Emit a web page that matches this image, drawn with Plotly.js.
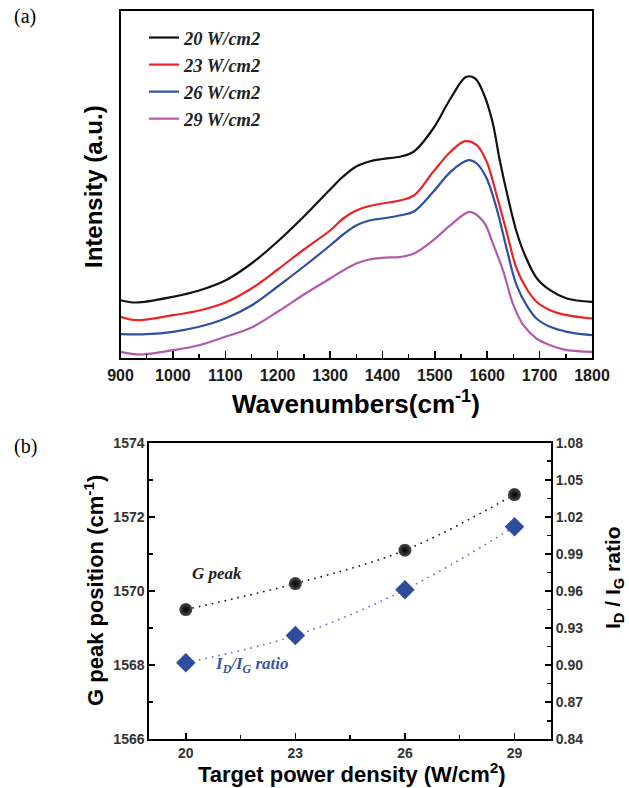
<!DOCTYPE html>
<html>
<head>
<meta charset="utf-8">
<script src="https://cdn.plot.ly/plotly-3.0.1.min.js"></script>
<style>html,body{margin:0;padding:0;background:#fff;}#chart{width:629px;height:788px;}</style>
</head>
<body>
<div id="chart"></div>
<script>
// ---- Panel (a): Raman spectra (arbitrary intensity units) ----
const wn20 = [900,930,1000,1050,1100,1150,1200,1250,1300,1325,1350,1375,1400,1435,1460,1497,1530,1560,1577,1593,1610,1624,1640,1656,1672,1695,1720,1752,1800];
const int20 = [57.3,55,60.7,67,77,94,116,141,168,181,191,196,198.5,201,206,229,259,280.7,279,264,235.7,197,159,125.7,102.3,79,67.3,59,55.7];

const wn23 = [900,930,1000,1050,1100,1150,1200,1250,1300,1325,1350,1375,1400,1435,1460,1497,1530,1558,1580,1599,1618,1637,1656,1675,1694,1720,1752,1800];
const int23 = [40.7,37.3,42.3,47,55,69,88,108,127,139,147,151.5,154,157.3,162,185.7,205.7,216.3,212.3,195.7,162.3,125.7,89,69,55.7,47.3,42.3,39];

const wn26 = [900,950,1000,1050,1100,1150,1200,1250,1300,1325,1350,1375,1400,1435,1460,1497,1530,1564,1580,1599,1618,1637,1656,1675,1694,1720,1752,1800];
const int26 = [23.3,23.3,25.7,30.7,39,52,71,91,112,123,132,137,139,142.3,146,165.7,185.7,197.3,194,179,149,109,72.3,52.3,39,30.7,25.7,22.3];

const wn29 = [900,940,1000,1050,1100,1150,1200,1250,1300,1325,1350,1375,1400,1435,1460,1497,1530,1567,1593,1612,1631,1650,1669,1694,1720,1752,1800];
const int29 = [5.7,3,7.3,12.3,20.7,30,45.7,63,79,87,94,98,99.7,100.7,104,117.3,132.3,145.7,135.7,112.3,85.7,52.3,32.3,19,12.3,7.3,5.7];

const seriesNames = ["20 W/cm2","23 W/cm2","26 W/cm2","29 W/cm2"];

// ---- Panel (b): G peak position and ID/IG ratio ----
const power = [20,23,26,29];
const gPeak = [1569.5,1570.2,1571.1,1572.6];
const idig = [0.902,0.924,0.961,1.012];
const xTickVals = [20,23,26,29];

// ---- layout helpers (page pixels -> paper) ----
const W = 629, H = 788;
const px = x => x / W;
const py = y => 1 - y / H;

const lineCols = ["#111111","#ec2227","#2f4f9f","#b35aae"];
const specX = [wn20,wn23,wn26,wn29];
const specY = [int20,int23,int26,int29];

const traces = specX.map((xs,i) => ({
  x: xs, y: specY[i], type:'scatter', mode:'lines', name: seriesNames[i],
  line:{color: lineCols[i], width:2.2, shape:'spline', smoothing:1},
  xaxis:'x', yaxis:'y', showlegend:true, hoverinfo:'skip'
}));

traces.push({
  x: power, y: gPeak, type:'scatter', mode:'lines+markers', xaxis:'x2', yaxis:'y2', showlegend:false,
  line:{color:'#111', width:1.6, dash:'1.6px,5px', shape:'spline'},
  marker:{symbol:'circle', size:13, color:'#4a4a4a', gradient:{type:'radial', color:'#000'}, line:{width:0}}
});
traces.push({
  x: power, y: idig, type:'scatter', mode:'lines+markers', xaxis:'x2', yaxis:'y3', showlegend:false,
  line:{color:'#5573cc', width:1.6, dash:'1.6px,5px', shape:'spline'},
  marker:{symbol:'diamond', size:15, color:'#2e4d9c', line:{width:0}}
});

const tickFontTop = {family:'Liberation Sans, Arial, sans-serif', size:16, color:'#1a1a1a', weight:'bold'};
const tickFontBot = {family:'Liberation Sans, Arial, sans-serif', size:14, color:'#333', weight:'bold'};
const titleFont = (s) => ({family:'Liberation Sans, Arial, sans-serif', size:s, color:'#000', weight:'bold'});

const layout = {
  width: W, height: H,
  margin:{l:0,r:0,t:0,b:0},
  paper_bgcolor:'#fff', plot_bgcolor:'#fff',
  showlegend:true,
  legend:{x:px(144), y:py(19), xanchor:'left', yanchor:'top', bgcolor:'rgba(0,0,0,0)',
          font:{family:'Liberation Serif, Times New Roman, serif', size:18.5, color:'#222', style:'italic', weight:'bold'},
          tracegroupgap:0, itemwidth:30},
  xaxis:{domain:[px(120.5), px(592)], range:[900,1800], anchor:'y',
         showline:true, linecolor:'#000', linewidth:2, mirror:true, showgrid:false, zeroline:false,
         ticks:'inside', ticklen:7, tickwidth:1.5, tickcolor:'#000', dtick:100, tick0:900,
         minor:{ticks:'inside', ticklen:4, tickwidth:1.5, tickcolor:'#000', dtick:50},
         tickfont:tickFontTop, ticklabelstandoff:2, automargin:false},
  yaxis:{domain:[py(357.5), py(11)], range:[0,346.5], anchor:'x',
         showline:true, linecolor:'#000', linewidth:2, mirror:true, showgrid:false, zeroline:false,
         ticks:'', showticklabels:false, automargin:false},
  xaxis2:{domain:[px(149.3), px(551)], range:[19,30], anchor:'y2',
          showline:true, linecolor:'#000', linewidth:2, mirror:true, showgrid:false, zeroline:false,
          ticks:'inside', ticklen:6, tickwidth:1.5, tickcolor:'#000', tickvals:xTickVals,
          minor:{ticks:'inside', ticklen:4, tickwidth:1.5, tickcolor:'#000', dtick:1.5, tick0:20},
          tickfont:tickFontBot, automargin:false},
  yaxis2:{domain:[py(739.3), py(442.7)], range:[1566,1574], anchor:'x2',
          showline:true, linecolor:'#000', linewidth:2, showgrid:false, zeroline:false,
          ticks:'inside', ticklen:6, tickwidth:1.5, tickcolor:'#000', dtick:2, tick0:1566,
          minor:{ticks:'inside', ticklen:4, tickwidth:1.5, tickcolor:'#000', dtick:1},
          tickfont:tickFontBot, automargin:false},
  yaxis3:{overlaying:'y2', side:'right', anchor:'x2', range:[0.84,1.08],
          showline:true, linecolor:'#000', linewidth:2, showgrid:false, zeroline:false,
          ticks:'inside', ticklen:6, tickwidth:1.5, tickcolor:'#000', dtick:0.03, tick0:0.84, tickformat:'.2f',
          minor:{ticks:'inside', ticklen:4, tickwidth:1.5, tickcolor:'#000', dtick:0.015},
          tickfont:tickFontBot, automargin:false},
  annotations:[
    {xref:'paper', yref:'paper', x:px(12), y:py(17), xanchor:'left', yanchor:'middle', showarrow:false,
     text:'(a)', font:{family:'Liberation Serif, Times New Roman, serif', size:20, color:'#000'}},
    {xref:'paper', yref:'paper', x:px(12), y:py(446), xanchor:'left', yanchor:'middle', showarrow:false,
     text:'(b)', font:{family:'Liberation Serif, Times New Roman, serif', size:20, color:'#000'}},
    {xref:'paper', yref:'paper', x:px(356), y:py(403), xanchor:'center', yanchor:'middle', showarrow:false,
     text:'Wavenumbers(cm<sup>-1</sup>)', font:titleFont(26)},
    {xref:'paper', yref:'paper', x:px(93), y:py(187), xanchor:'center', yanchor:'middle', showarrow:false, textangle:-90,
     text:'Intensity (a.u.)', font:titleFont(24)},
    {xref:'paper', yref:'paper', x:px(352), y:py(773), xanchor:'center', yanchor:'middle', showarrow:false,
     text:'Target power density (W/cm<sup>2</sup>)', font:titleFont(22)},
    {xref:'paper', yref:'paper', x:px(94), y:py(591), xanchor:'center', yanchor:'middle', showarrow:false, textangle:-90,
     text:'G peak position (cm<sup>-1</sup>)', font:titleFont(22)},
    {xref:'paper', yref:'paper', x:px(614), y:py(578), xanchor:'center', yanchor:'middle', showarrow:false, textangle:-90,
     text:'I<sub>D</sub> / I<sub>G</sub> ratio', font:titleFont(21)},
    {xref:'paper', yref:'paper', x:px(217), y:py(573), xanchor:'center', yanchor:'middle', showarrow:false,
     text:'G peak', font:{family:'Liberation Serif, Times New Roman, serif', size:17, color:'#222', style:'italic', weight:'bold'}},
    {xref:'paper', yref:'paper', x:px(251), y:py(665), xanchor:'center', yanchor:'middle', showarrow:false,
     text:'I<sub>D</sub>/I<sub>G</sub> ratio', font:{family:'Liberation Serif, Times New Roman, serif', size:17, color:'#3a52a8', style:'italic', weight:'bold'}}
  ]
};

Plotly.newPlot('chart', traces, layout, {displayModeBar:false, staticPlot:true});
</script>
</body>
</html>
